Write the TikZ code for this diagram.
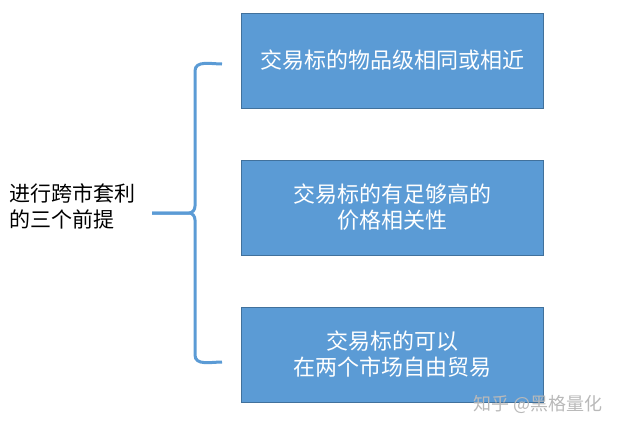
\documentclass[tikz,border=0pt]{standalone}
\usepackage{fontspec}
\setmainfont{Noto Sans CJK SC}
\usepackage{tikz}
\usetikzlibrary{positioning}
\definecolor{boxfill}{HTML}{5B9BD5}
\definecolor{boxline}{HTML}{41719C}
\tikzset{
  cond/.style={
    rectangle, minimum width=302pt, minimum height=95pt, inner sep=0pt,
    text centered, align=center, draw=boxline, line width=1pt, fill=boxfill,
    text=white, font=\fontsize{22}{26}\selectfont
  },
  bracket/.style={
    draw=boxfill, line width=3pt
  }
}

\begin{document}
\begin{tikzpicture}[x=1pt, y=-1pt]
    \useasboundingbox (0,0) rectangle (628,431);

    % Conditions
    \node[cond] (c1) at (392,60.5) {交易标的物品级相同或相近};
    \node[cond, below=51pt of c1] (c2) {交易标的有足够高的\\价格相关性};
    \node[cond, below=51pt of c2] (c3) {交易标的可以\\在两个市场自由贸易};

    % Titre
    \node[align=left, inner sep=0pt, font=\fontsize{21}{26}\selectfont] (title) at (72.5,206) {进行跨市套利\\的三个前提};

    % Accolade
    \coordinate (top) at (222,64);
    \coordinate (bot) at (222,362);
    \coordinate (tip) at (152,213);
    \draw[bracket] (top) to[out=180, in=90] (195,71) -- (195,206) to[out=-90, in=0] (189,213) -- (tip);
    \draw[bracket] (tip) -- (189,213) to[out=0, in=90] (195,220) -- (195,355) to[out=-90, in=180] (bot);

    % Filigrane
    \node[text=gray!55, font=\fontsize{18}{18}\selectfont, anchor=east] (mark) at (606,404) {知乎 @黑格量化};
\end{tikzpicture}
\end{document}
